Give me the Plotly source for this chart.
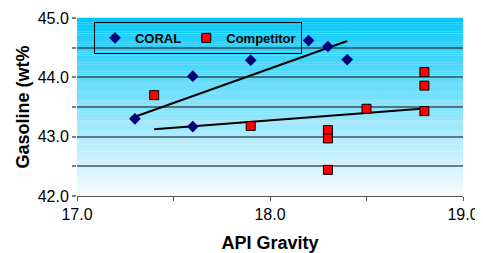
import numpy as np
import plotly.graph_objects as go

# ---- data ----
coral_x = [17.3, 17.6, 17.6, 17.9, 18.2, 18.3, 18.4]
coral_y = [43.30, 43.17, 44.02, 44.29, 44.62, 44.52, 44.30]
comp_x = [17.4, 17.9, 18.3, 18.3, 18.3, 18.5, 18.8, 18.8, 18.8]
comp_y = [43.70, 43.18, 43.11, 42.97, 42.44, 43.47, 44.09, 43.86, 43.43]
x_ticks = [17.0, 17.5, 18.0, 18.5, 19.0]
x_labels = ["17.0", "", "18.0", "", "19.0"]
y_ticks = [42.0, 42.5, 43.0, 43.5, 44.0, 44.5, 45.0]
y_labels = ["42.0", "", "43.0", "", "44.0", "", "45.0"]
y_grid = [42.5, 43.0, 43.5, 44.0, 44.5]
series_names = ["CORAL", "Competitor"]

FONT = "Arial, Liberation Sans, sans-serif"
GRID = "rgba(45,50,55,0.62)"

def trend(xs, ys):
    k, b = np.polyfit(xs, ys, 1)
    xx = np.array([min(xs), max(xs)])
    return xx, k * xx + b

fig = go.Figure()
# invisible trace so the overlaid grid axis renders
fig.add_trace(go.Scatter(x=[17], y=[42], yaxis="y2", mode="markers",
                         marker=dict(opacity=0), showlegend=False, hoverinfo="skip"))
tx, ty = trend(coral_x, coral_y)
fig.add_trace(go.Scatter(x=tx, y=ty, mode="lines", showlegend=False,
                         line=dict(color="black", width=2), hoverinfo="skip"))
tx, ty = trend(comp_x, comp_y)
fig.add_trace(go.Scatter(x=tx, y=ty, mode="lines", showlegend=False,
                         line=dict(color="black", width=2), hoverinfo="skip"))
fig.add_trace(go.Scatter(x=coral_x, y=coral_y, mode="markers",
                         name="<b>" + series_names[0] + "</b>",
                         marker=dict(symbol="diamond", size=9, color="#00007a")))
fig.add_trace(go.Scatter(x=comp_x, y=comp_y, mode="markers",
                         name="<b>" + series_names[1] + "</b>",
                         marker=dict(symbol="square", size=9, color="#ff0000",
                                     line=dict(color="black", width=1))))

# gradient background strips
n = 80
top = np.array([0, 200, 250])
white = np.array([248, 251, 255])
shapes = []
for i in range(n):
    t = (i + 0.5) / n  # 0 at top
    c = top + (white - top) * (t ** 0.9)
    shapes.append(dict(type="rect", xref="x domain", yref="y domain",
                       x0=0, x1=1, y0=1 - (i + 1) / n, y1=1 - i / n + 0.001,
                       fillcolor="rgb(%d,%d,%d)" % tuple(c.astype(int)),
                       line=dict(width=0), layer="below"))

# page body has an 8px margin, so the figure is sized/offset to compensate
fig.update_layout(
    width=475, height=245,
    margin=dict(l=69, r=20, t=10, b=57),
    paper_bgcolor="white", plot_bgcolor="rgba(0,0,0,0)",
    shapes=shapes,
    font=dict(family=FONT, color="black"),
    legend=dict(orientation="h", x=0.044, y=0.978, xanchor="left", yanchor="top",
                bordercolor="black", borderwidth=1, bgcolor="rgba(0,0,0,0)",
                font=dict(size=13, family=FONT),
                itemwidth=30, tracegroupgap=0),
    xaxis=dict(range=[17, 19], tickvals=x_ticks, ticktext=x_labels, automargin=False,
               showgrid=False, zeroline=False, showline=True, linecolor="#555",
               linewidth=1, ticks="outside", ticklen=4, tickcolor="#555",
               tickfont=dict(size=16, family=FONT),
               title=dict(text="API Gravity", font=dict(size=18, family=FONT, weight="bold"),
                          standoff=18)),
    yaxis=dict(range=[42, 45], tickvals=y_ticks, ticktext=y_labels, automargin=False,
               showgrid=False, zeroline=False, showline=False,
               ticks="outside", ticklen=4, tickwidth=2, tickcolor=GRID,
               tickfont=dict(size=16, family=FONT),
               title=dict(text="Gasoline (wt%", font=dict(size=18, family=FONT, weight="bold"),
                          standoff=3)),
    yaxis2=dict(range=[42, 45], overlaying="y", tickvals=y_grid, showgrid=True,
                automargin=False,
                gridcolor=GRID, gridwidth=2, showticklabels=False, ticks="",
                zeroline=False, showline=False),
)

fig.write_html("out.html")
